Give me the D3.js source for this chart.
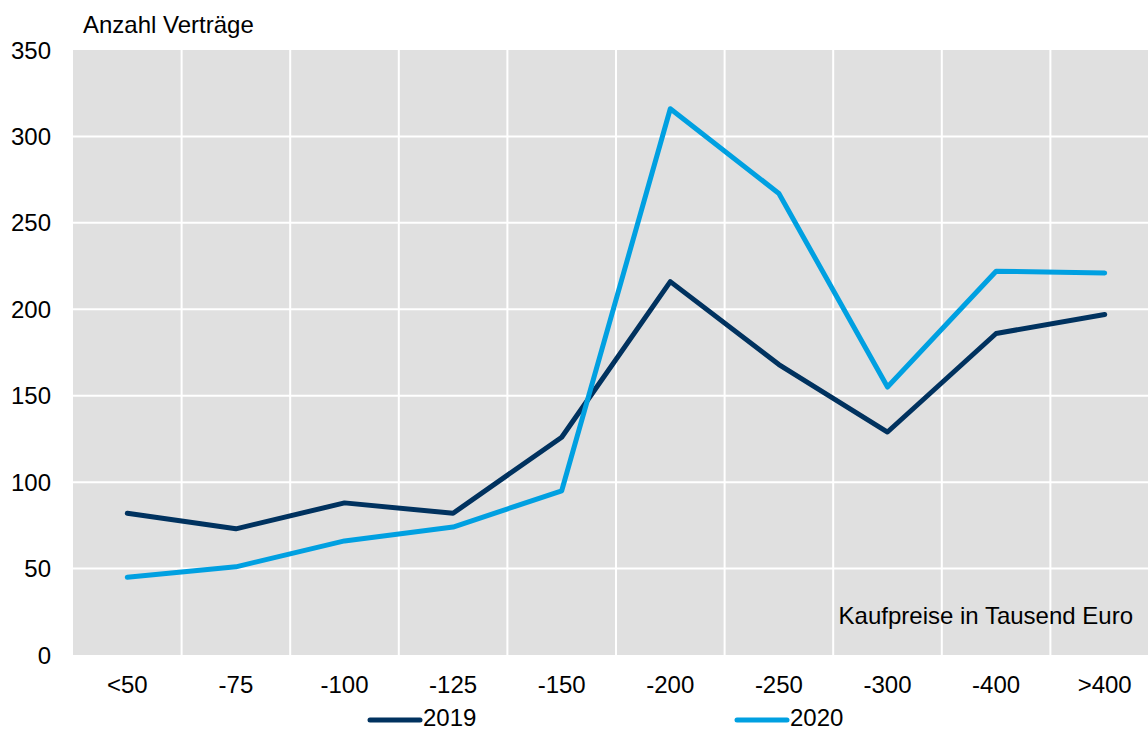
<!DOCTYPE html>
<html>
<head>
<meta charset="utf-8">
<script src="https://cdn.jsdelivr.net/npm/d3@7"></script>
<style>
  html, body { margin: 0; padding: 0; background: #ffffff; }
  svg { display: block; }
  text { font-family: "Liberation Sans", Arial, sans-serif; fill: #000; }
</style>
</head>
<body>
<svg id="chart" width="1148" height="731"></svg>
<script>
// Price classes (thousand euro) and contract counts per year
const categories = ["<50", "-75", "-100", "-125", "-150", "-200", "-250", "-300", "-400", ">400"];
const values2019 = [82, 73, 88, 82, 126, 216, 168, 129, 186, 197];
const values2020 = [45, 51, 66, 74, 95, 316, 267, 155, 222, 221];
const yTicks = [0, 50, 100, 150, 200, 250, 300, 350];
const seriesNames = ["2019", "2020"];

const colors = { "2019": "#00325f", "2020": "#00a0e1" };
const fontSize = 24;

const svg = d3.select("#chart");
const plot = { left: 73, right: 1159, top: 50, bottom: 655 };

const x = d3.scaleBand().domain(categories).range([plot.left, plot.right]).padding(0);
const y = d3.scaleLinear().domain([0, 350]).range([plot.bottom, plot.top]);
const cx = c => x(c) + x.bandwidth() / 2;

// plot background
svg.append("rect")
  .attr("x", plot.left).attr("y", plot.top)
  .attr("width", plot.right - plot.left).attr("height", plot.bottom - plot.top)
  .attr("fill", "#e0e0e0");

// horizontal grid
svg.append("g").selectAll("line")
  .data(yTicks.filter(t => t > 0 && t < 350))
  .join("line")
  .attr("x1", plot.left).attr("x2", plot.right)
  .attr("y1", d => y(d)).attr("y2", d => y(d))
  .attr("stroke", "#ffffff").attr("stroke-width", 2);

// vertical grid at category boundaries
svg.append("g").selectAll("line")
  .data(categories.slice(1))
  .join("line")
  .attr("x1", d => x(d)).attr("x2", d => x(d))
  .attr("y1", plot.top).attr("y2", plot.bottom)
  .attr("stroke", "#ffffff").attr("stroke-width", 2);

// y tick labels
svg.append("g").selectAll("text")
  .data(yTicks)
  .join("text")
  .attr("x", 51)
  .attr("y", d => y(d))
  .attr("dy", "0.36em")
  .attr("text-anchor", "end")
  .style("font-size", fontSize + "px")
  .text(d => d);

// x tick labels
svg.append("g").selectAll("text")
  .data(categories)
  .join("text")
  .attr("x", d => cx(d))
  .attr("y", 693)
  .attr("text-anchor", "middle")
  .style("font-size", fontSize + "px")
  .text(d => d);

// axis titles
svg.append("text")
  .attr("x", 83).attr("y", 33)
  .style("font-size", fontSize + "px")
  .text("Anzahl Verträge");

svg.append("text")
  .attr("x", 1133).attr("y", 624)
  .attr("text-anchor", "end")
  .style("font-size", fontSize + "px")
  .text("Kaufpreise in Tausend Euro");

// series lines
const line = d3.line().x((d, i) => cx(categories[i])).y(d => y(d));
const series = [
  { name: "2019", values: values2019 },
  { name: "2020", values: values2020 }
];
svg.append("g").selectAll("path")
  .data(series)
  .join("path")
  .attr("d", d => line(d.values))
  .attr("fill", "none")
  .attr("stroke", d => colors[d.name])
  .attr("stroke-width", 5)
  .attr("stroke-linejoin", "round")
  .attr("stroke-linecap", "round");

// legend
const legendX = { "2019": 370, "2020": 737 };
const lg = svg.append("g").selectAll("g")
  .data(seriesNames)
  .join("g")
  .attr("transform", d => `translate(${legendX[d]},720)`);
lg.append("line")
  .attr("x1", 0).attr("x2", 50)
  .attr("stroke", d => colors[d])
  .attr("stroke-width", 5)
  .attr("stroke-linecap", "round");
lg.append("text")
  .attr("x", 53).attr("y", 6)
  .style("font-size", fontSize + "px")
  .text(d => d);
</script>
</body>
</html>
